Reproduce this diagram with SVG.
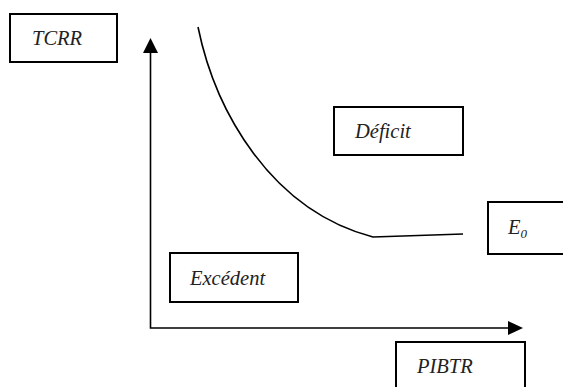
<svg xmlns="http://www.w3.org/2000/svg" width="563" height="387" viewBox="0 0 563 387">
<style>
.box{fill:#fff;stroke:#000;stroke-width:2}
.lbl{font-family:"Liberation Serif","Times New Roman",serif;font-style:italic;font-size:20.5px;fill:#222}
.ln{fill:none;stroke:#000;stroke-width:1.6}
</style>
<rect width="563" height="387" fill="#fff"/>
<g id="connectors">
<path class="ln" d="M150.5,53 V328 H508"/>
<polygon points="150.5,38 143,53 158,53" fill="#000"/>
<polygon points="523,328 508,321 508,335" fill="#000"/>
<path class="ln" d="M198,27 C215,110 270,210 373,237 L463,234"/>
</g>
<g id="tcrr"><rect class="box" x="10" y="14" width="107" height="48"/><text class="lbl" x="32" y="45">TCRR</text></g>
<g id="deficit"><rect class="box" x="334" y="107" width="129" height="48"/><text class="lbl" x="355" y="138">Déficit</text></g>
<g id="e0"><rect class="box" x="488" y="202" width="80" height="52"/><text class="lbl" x="508" y="234">E<tspan font-size="13" dy="4">0</tspan></text></g>
<g id="excedent"><rect class="box" x="170" y="253" width="128" height="49"/><text class="lbl" x="190" y="285">Excédent</text></g>
<g id="pibtr"><rect class="box" x="396" y="342" width="129" height="52"/><text class="lbl" x="417" y="373">PIBTR</text></g>
</svg>
